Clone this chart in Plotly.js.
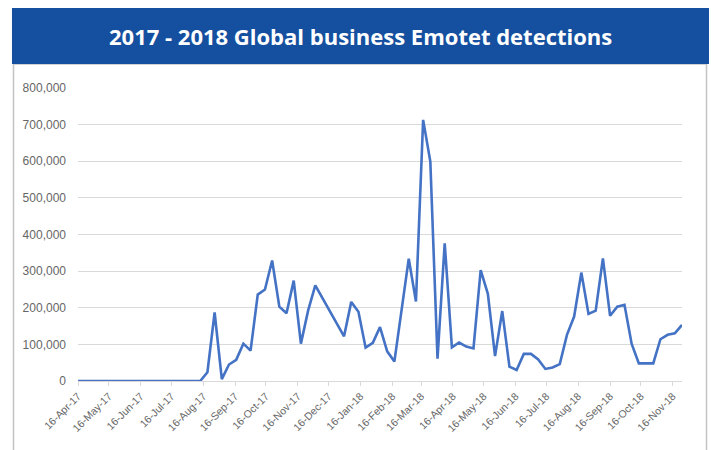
<!DOCTYPE html>
<html>
<head>
<meta charset="utf-8">
<script src="https://cdn.plot.ly/plotly-3.0.1.min.js"></script>
<style>
html,body{margin:0;padding:0;background:#fff;}
#chart{width:711px;height:450px;}
</style>
</head>
<body>
<div id="chart"></div>
<script>
// Weekly dates starting 16-Apr-2017 (85 weeks) — the category/time labels
const startDate = '2017-04-16';
const weekCount = 85;
// Detections per week
const detections = [
  0, 0, 0, 0, 0, 0, 0, 0, 0, 0,
  0, 0, 0, 0, 0, 0, 0, 0, 24000, 187000,
  5000, 45000, 58000, 102000, 83000, 236000, 250000, 329000, 203000, 185000,
  274000, 102000, 192000, 261000, 226000, 191000, 156000, 122000, 216000, 189000,
  91000, 104000, 147000, 81000, 53000, 196000, 334000, 217000, 713000, 599000,
  61000, 376000, 92000, 105000, 94000, 89000, 303000, 238000, 68000, 191000,
  39000, 30000, 74000, 74000, 59000, 33000, 37000, 46000, 126000, 176000,
  296000, 183000, 192000, 335000, 178000, 203000, 208000, 101000, 48000, 48000,
  48000, 114000, 126000, 130000, 153000
];
const titleText = '2017 - 2018 Global business Emotet detections';
const yTickVals = [0, 100000, 200000, 300000, 400000, 500000, 600000, 700000, 800000];
const yTickText = ['0', '100,000', '200,000', '300,000', '400,000', '500,000', '600,000', '700,000', '800,000'];

function addDays(iso, n) {
  const d = new Date(iso + 'T00:00:00Z');
  d.setUTCDate(d.getUTCDate() + n);
  return d.toISOString().slice(0, 10);
}
const dates = [];
for (let i = 0; i < weekCount; i++) dates.push(addDays(startDate, 7 * i));

const trace = {
  x: dates,
  y: detections,
  type: 'scatter',
  mode: 'lines',
  line: {color: '#4472C4', width: 2.6},
  hoverinfo: 'x+y'
};

const gray = '#666666';
const layout = {
  width: 711,
  height: 450,
  margin: {l: 78, r: 29, t: 88, b: 69},
  paper_bgcolor: '#ffffff',
  plot_bgcolor: '#ffffff',
  showlegend: false,
  font: {family: 'Liberation Sans, Arial, sans-serif', color: gray},
  xaxis: {
    type: 'date',
    range: [dates[0], dates[dates.length - 1]],
    tick0: startDate,
    dtick: 'M1',
    tickformat: '%d-%b-%y',
    tickangle: -45,
    tickfont: {size: 10.5, color: gray, family: 'Liberation Sans, Arial, sans-serif'},
    showgrid: false,
    zeroline: false,
    showline: true,
    linecolor: '#d9d9d9',
    linewidth: 1,
    ticks: 'outside',
    ticklen: 4,
    tickcolor: '#d9d9d9',
    fixedrange: true
  },
  yaxis: {
    range: [0, 800000],
    tickvals: yTickVals,
    ticktext: yTickText,
    tickfont: {size: 12, color: gray, family: 'Liberation Sans, Arial, sans-serif'},
    showgrid: true,
    gridcolor: '#d9d9d9',
    gridwidth: 1,
    zeroline: false,
    showline: false,
    ticks: '',
    ticklabelstandoff: 11,
    fixedrange: true
  },
  shapes: [
    {type: 'rect', xref: 'paper', yref: 'paper', x0: -0.1068, x1: 1.0406, y0: -0.26, y1: 1.0819,
     line: {color: '#c3c3c3', width: 1.5}, fillcolor: 'rgba(0,0,0,0)', layer: 'below'},
    {type: 'rect', xref: 'paper', yref: 'paper', x0: -0.1093, x1: 1.0447, y0: 1.0819, y1: 1.273,
     line: {width: 0}, fillcolor: '#154f9f', layer: 'above'}
  ],
  annotations: [
    {text: '<b>' + titleText + '</b>', xref: 'paper', yref: 'paper', x: 0.467, y: 1.1775,
     xanchor: 'center', yanchor: 'middle', showarrow: false,
     font: {family: 'Open Sans, Roboto, sans-serif', size: 22, color: '#ffffff'}}
  ]
};

Plotly.newPlot('chart', [trace], layout, {displayModeBar: false, staticPlot: true});
</script>
</body>
</html>
